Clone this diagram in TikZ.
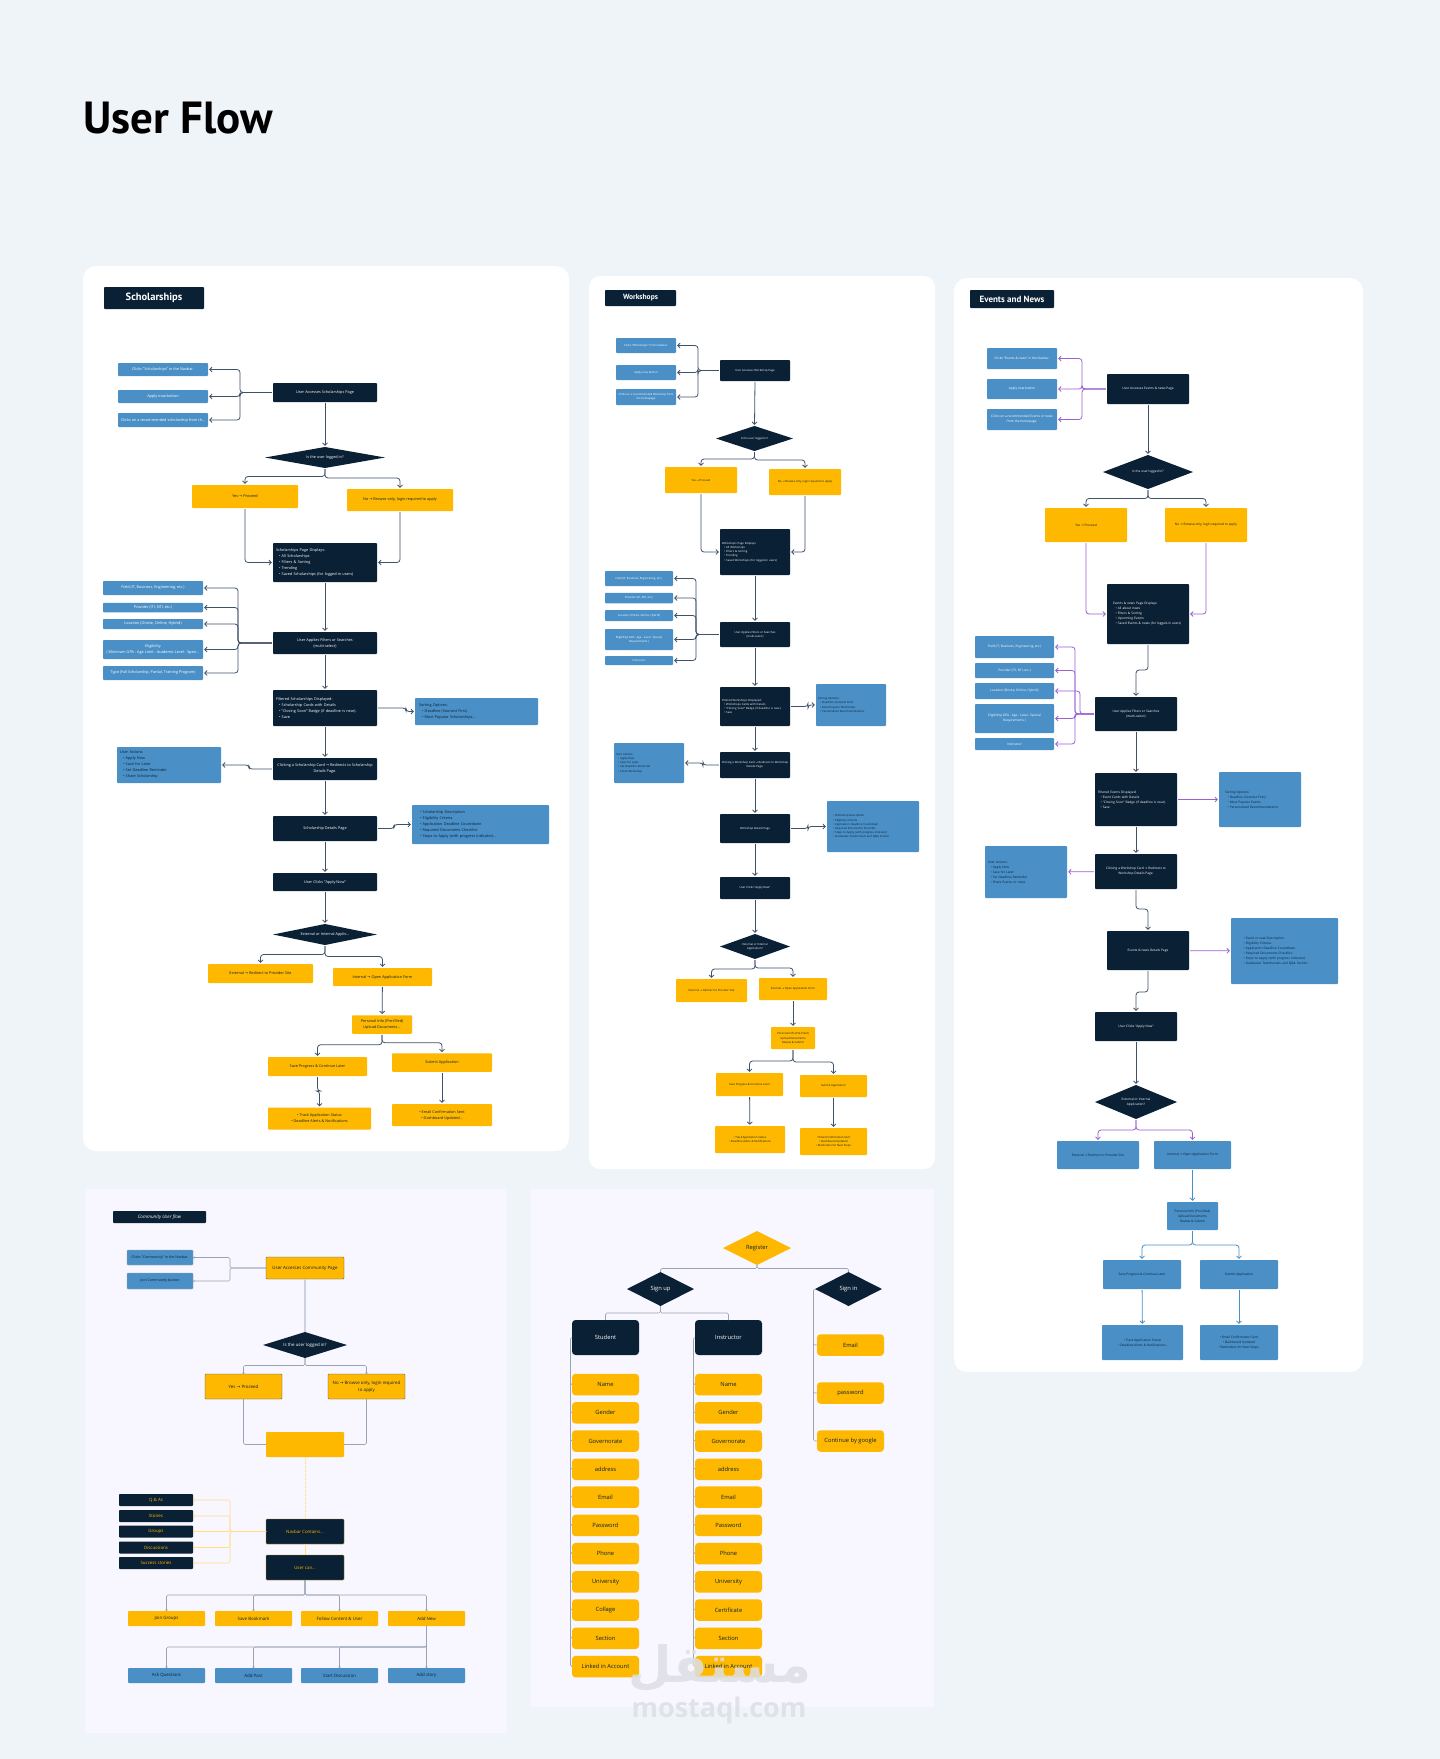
\documentclass[tikz,border=0pt]{standalone}
\usepackage{fontspec}
\setmainfont{Open Sans}
\newfontfamily\headfont{PT Sans}
\newfontfamily\arrfont{DejaVu Sans}
\newfontfamily\arabicfont[Script=Arabic]{DejaVu Sans}
\TeXXeTstate=1
\usetikzlibrary{shapes.geometric, arrows.meta}

\definecolor{pagebg}{HTML}{EFF4F9}
\definecolor{lilac}{HTML}{F8F6FE}
\definecolor{navy}{HTML}{0A2035}
\definecolor{azure}{HTML}{4A90C7}
\definecolor{amber}{HTML}{FFB800}
\definecolor{slate}{HTML}{3F5269}
\definecolor{mauve}{HTML}{9A60D2}
\definecolor{steel}{HTML}{9AA3B5}
\definecolor{paleamber}{HTML}{FFDE85}
\definecolor{haze}{HTML}{CDD2E0}
\definecolor{markgrey}{HTML}{DDDFE4}

\newcommand{\arr}{{\arrfont →}}
\newcommand{\itm}{\hspace*{0.8em}\textbullet\ }

\begin{document}
\begin{tikzpicture}[x = 1pt, y = -1pt,
                    wh/.style 2 args = {minimum width = #1pt, minimum height = #2pt},
                    tw/.style = {align = left, text width = #1pt},
                    card/.style = {rectangle, rounded corners = 0.8pt, inner sep = 0pt, outer sep = 0pt, align = center},
                    navybox/.style = {card, fill = navy, text = white},
                    bluebox/.style = {card, fill = azure, text = white},
                    bluedark/.style = {card, fill = azure, text = navy},
                    ambbox/.style = {card, fill = amber, text = navy},
                    navydia/.style = {diamond, aspect = 4, inner sep = 0pt, outer sep = 0pt, align = center, fill = navy, text = white},
                    headbox/.style = {card, fill = navy, text = white, font = \headfont\bfseries},
                    flow/.style = {->, >={Straight Barb[length = 2.4pt, width = 5pt]}, draw = slate, line width = 0.8pt, rounded corners = 3pt, shorten > = 1.2pt, shorten < = 1.2pt},
                    purpleflow/.style = {flow, draw = mauve},
                    blueflow/.style = {flow, draw = azure},
                    thinflow/.style = {->, >={Straight Barb[length = 1pt, width = 2pt]}, draw = steel, line width = 0.6pt, rounded corners = 1.5pt},
                    paleflow/.style = {thinflow, draw = paleamber},
                    link/.style = {draw = steel, line width = 0.6pt, rounded corners = 1.5pt},
                    amblist/.style = {navybox, text = amber, wh = {74}{12}},
                    field/.style = {card, fill = amber, text = navy, rounded corners = 3.5pt, wh = {67}{21.5}},
                    rolebox/.style = {card, fill = navy, text = white, rounded corners = 3.5pt, wh = {67}{35}}]

\useasboundingbox (0,0) rectangle (1440,1759);
\fill [pagebg] (0,0) rectangle (1440,1759);

% panels
\fill [white, rounded corners = 13pt] (83,266) rectangle (569,1151);
\fill [white, rounded corners = 11pt] (589,276) rectangle (935,1169);
\fill [white, rounded corners = 13pt] (954,278) rectangle (1363,1372);
\fill [lilac] (85,1189) rectangle (507,1733);
\fill [lilac] (531,1189) rectangle (934,1707);

\node (title) at (178,118) {\headfont\bfseries\fontsize{45}{50}\selectfont User Flow};

% scholarships
\begin{scope}[nodes = {font = \fontsize{3.8}{6}\selectfont}]
\node [headbox, wh = {100}{22}, font = \headfont\bfseries\fontsize{10.5}{12}\selectfont] (Shead) at (154,298) {Scholarships};
\node [bluebox, wh = {90}{13}] (S1) at (163,369.5) {Clicks "Scholarships" in the Navbar.};
\node [bluebox, wh = {90}{13}] (S2) at (163,396.5) {Apply now button};
\node [bluebox, wh = {90}{14}] (S3) at (163,420) {Clicks on a recommended scholarship from th...};
\node [navybox, wh = {104}{19}] (S4) at (325,392.5) {User Accesses Scholarships Page};
\node [navydia, wh = {120}{21}] (S5) at (325,457.5) {Is the user logged in?};
\node [ambbox, wh = {106}{23}] (S6) at (245,496.5) {Yes \arr{} Proceed};
\node [ambbox, wh = {106}{22}] (S7) at (400,500) {No \arr{} Browse only, login required to apply};
\node [navybox, wh = {104}{39}, tw = 98] (S8) at (325,562.5) {Scholarships Page Displays:\\ \itm All Scholarships\\ \itm Filters \& Sorting\\ \itm Trending\\ \itm Saved Scholarships (for logged-in users)};
\node [bluebox, wh = {100}{14}] (S9) at (153,588) {Field (IT, Business, Engineering, etc.)};
\node [bluebox, wh = {100}{9.5}] (S10) at (153,607.5) {Provider (ITI, NTI, etc.)};
\node [bluebox, wh = {100}{10}] (S11) at (153,624) {Location (Onsite, Online, Hybrid)};
\node [bluebox, wh = {100}{19}] (S12) at (153,649.5) {Eligibility\\ ( Minimum GPA - Age Limit - Academic Level - Speci...};
\node [bluebox, wh = {100}{14}] (S13) at (153,673) {Type (Full Scholarship, Partial, Training Program)};
\node [navybox, wh = {104}{22}] (S14) at (325,643) {User Applies Filters or Searches\\ (multi-select)};
\node [navybox, wh = {104}{36}, tw = 98] (S15) at (325,708) {Filtered Scholarships Displayed:\\ \itm Scholarship Cards with Details\\ \itm "Closing Soon" Badge (if deadline is near).\\ \itm Save};
\node [bluedark, wh = {123}{27}, tw = 115] (S16) at (476.5,711.5) {Sorting Options:\\ \itm Deadline (Soonest First)\\ \itm Most Popular Scholarships...};
\node [navybox, wh = {104}{22}] (S17) at (325,769) {Clicking a Scholarship Card \arr{} Redirects to Scholarship\\ Details Page.};
\node [bluedark, wh = {104}{36}, tw = 98] (S18) at (169,765) {User Actions:\\ \itm Apply Now\\ \itm Save for Later\\ \itm Set Deadline Reminder\\ \itm Share Scholarship};
\node [navybox, wh = {104}{25}] (S19) at (325,828.5) {Scholarship Details Page};
\node [bluedark, wh = {137}{39}, tw = 127] (S20) at (480.5,824.5) {\itm Scholarship Description\\ \itm Eligibility Criteria\\ \itm Application Deadline Countdown\\ \itm Required Documents Checklist\\ \itm Steps to Apply (with progress indicator)...};
\node [navybox, wh = {104}{18}] (S21) at (325,882) {User Clicks "Apply Now"};
\node [navydia, wh = {104}{21}] (S22) at (325,934.5) {External or Internal Applic...};
\node [ambbox, wh = {105}{19}] (S23) at (260.5,973.5) {External \arr{} Redirect to Provider Site};
\node [ambbox, wh = {99}{18}] (S24) at (382.5,977) {Internal \arr{} Open Application Form};
\node [ambbox, wh = {60}{18.5}] (S25) at (382,1024.5) {Personal Info (Pre-filled)\\ Upload Documents...};
\node [ambbox, wh = {99}{19}] (S26) at (317.5,1066.5) {Save Progress \& Continue Later};
\node [ambbox, wh = {100}{18.5}] (S27) at (442,1062.5) {Submit Application};
\node [ambbox, wh = {103}{22}] (S28) at (319.5,1118.5) {\textbullet\ Track Application Status\\ \textbullet\ Deadline Alerts \& Notifications};
\node [ambbox, wh = {100}{22}] (S29) at (442,1115) {\textbullet\ Email Confirmation Sent\\ \textbullet\ Dashboard Updated...};
\end{scope}

\coordinate (Sa) at (240,392.5);
\coordinate (Sb) at (238,643);
\draw [flow] (S4.west)--(Sa)|-(S1.east);
\draw [flow] (S4.west)--(Sa)|-(S2.east);
\draw [flow] (S4.west)--(Sa)|-(S3.east);
\draw [flow] (S4)--(S5);
\draw [flow] (S5.south)--++(0,8.5)-|(S6.north);
\draw [flow] (S5.south)--++(0,10)-|(S7.north);
\draw [flow] (S6.south)|-(S8.west);
\draw [flow] (S7.south)|-(S8.east);
\draw [flow] (S8)--(S14);
\draw [flow] (S14.west)--(Sb)|-(S9.east);
\draw [flow] (S14.west)--(Sb)|-(S10.east);
\draw [flow] (S14.west)--(Sb)|-(S11.east);
\draw [flow] (S14.west)--(Sb)|-(S12.east);
\draw [flow] (S14.west)--(Sb)|-(S13.east);
\draw [flow] (S14)--(S15);
\draw [flow] (S15.east)--++(29,0)|-(S16.west);
\draw [flow] (S15)--(S17);
\draw [flow] (S17.west)--++(-24,0)|-(S18.east);
\draw [flow] (S17)--(S19);
\draw [flow] (S19.east)--++(17,0)|-(S20.west);
\draw [flow] (S19)--(S21);
\draw [flow] (S21)--(S22);
\draw [flow] (S22.south)--++(0,9.5)-|(S23.north);
\draw [flow] (S22.south)--++(0,11.5)-|(S24.north);
\draw [flow] (S24)--(S25);
\draw [flow] (S25.south)--++(0,11)-|(S26.north);
\draw [flow] (S25.south)--++(0,9)-|(S27.north);
\draw [flow] (S26.south)--++(0,15)-|(S28.north);
\draw [flow] (S27)--(S29);

% workshops
\begin{scope}[nodes = {font = \fontsize{2.8}{4.2}\selectfont}]
\node [headbox, wh = {71}{16}, font = \headfont\bfseries\fontsize{7.5}{9}\selectfont] (Whead) at (640.5,298) {Workshops};
\node [bluebox, wh = {60}{15}] (W1) at (646,345.5) {Clicks "Workshops" in the Navbar.};
\node [bluebox, wh = {60}{15}] (W2) at (646,372.5) {Apply now button};
\node [bluebox, wh = {60}{16}] (W3) at (646,397) {Clicks on a recommended Workshop from\\ the homepage};
\node [navybox, wh = {70}{21}] (W4) at (755,370.5) {User Accesses Workshop Page};
\node [navydia, wh = {77}{25}] (W5) at (754.5,438.5) {Is the user logged in?};
\node [ambbox, wh = {72}{26}] (W6) at (701,480) {Yes \arr{} Proceed};
\node [ambbox, wh = {72}{26}] (W7) at (805,482) {No \arr{} Browse only, login required to apply};
\node [navybox, wh = {70}{46}, tw = 66] (W8) at (755,552) {Workshops Page Displays:\\ \itm All Workshops\\ \itm Filters \& Sorting\\ \itm Trending\\ \itm Saved Workshops (for logged-in users)};
\node [bluebox, wh = {68}{15}] (W9) at (639,578.5) {Field (IT, Business, Engineering, etc.)};
\node [bluebox, wh = {68}{10.5}] (W10) at (639,598) {Provider (ITI, NTI, etc.)};
\node [bluebox, wh = {68}{11}] (W11) at (639,615.5) {Location (Onsite, Online, Hybrid)};
\node [bluebox, wh = {68}{21}] (W12) at (639,639.5) {Eligibility( GPA - Age - Level - Special\\ Requirements )};
\node [bluebox, wh = {68}{9}] (W13) at (639,660.5) {Instructor};
\node [navybox, wh = {70}{25}] (W14) at (755,634.5) {User Applies Filters or Searches\\ (multi-select)};
\node [navybox, wh = {70}{39}, tw = 66] (W15) at (755,706.5) {Filtered Workshops Displayed:\\ \itm Workshops Cards with Details\\ \itm "Closing Soon" Badge (if deadline is near).\\ \itm Save};
\node [bluedark, wh = {70}{42}, tw = 66] (W16) at (851,705) {Sorting Options:\\ \itm Deadline (Soonest First)\\ \itm Most Popular Workshops\\ \itm Personalized Recommendations};
\node [navybox, wh = {70}{26}] (W17) at (755,765) {Clicking a Workshop Card \arr{} Redirects to Workshop\\ Details Page.};
\node [bluedark, wh = {70}{40}, tw = 66] (W18) at (649,763) {User Actions:\\ \itm Apply Now\\ \itm Save for Later\\ \itm Set Deadline Reminder\\ \itm Share Workshop};
\node [navybox, wh = {70}{29}] (W19) at (755,828.5) {Workshop Details Page};
\node [bluedark, wh = {92}{51}, tw = 84] (W20) at (873,826.5) {\itm Workshop Description\\ \itm Eligibility Criteria\\ \itm Application Deadline Countdown\\ \itm Required Documents Checklist\\ \itm Steps to Apply (with progress indicator)\\ \itm Graduates Testimonials and Q\&A Section};
\node [navybox, wh = {70}{22}] (W21) at (755,888) {User Clicks "Apply Now"};
\node [navydia, wh = {70}{25}] (W22) at (755,946.5) {External or Internal\\ Application?};
\node [ambbox, wh = {71}{23}] (W23) at (711.5,990.5) {External \arr{} Redirect to Provider Site};
\node [ambbox, wh = {68}{22}] (W24) at (793,989) {Internal \arr{} Open Application Form};
\node [ambbox, wh = {44}{22}] (W25) at (793,1038) {Personal Info (Pre-filled)\\ Upload Documents\\ Review \& Submit};
\node [ambbox, wh = {67}{23}] (W26) at (749.5,1084.5) {Save Progress \& Continue Later};
\node [ambbox, wh = {67}{22}] (W27) at (833.5,1086) {Submit Application};
\node [ambbox, wh = {70}{27}] (W28) at (750,1139.5) {\textbullet\ Track Application Status\\ \textbullet\ Deadline Alerts \& Notifications};
\node [ambbox, wh = {67}{27}] (W29) at (833.5,1141.5) {\textbullet\ Email Confirmation Sent\\ \textbullet\ Dashboard Updated\\ \textbullet\ Reminders for Next Steps};
\end{scope}

\coordinate (Wa) at (698,370.5);
\coordinate (Wb) at (696,634.5);
\draw [flow] (W4.west)--(Wa)|-(W1.east);
\draw [flow] (W4.west)--(Wa)|-(W2.east);
\draw [flow] (W4.west)--(Wa)|-(W3.east);
\draw [flow] (W4.south)--(W5.north);
\draw [flow] (W5.south)--++(0,8)-|(W6.north);
\draw [flow] (W5.south)--++(0,9)-|(W7.north);
\draw [flow] (W6.south)|-(W8.west);
\draw [flow] (W7.south)|-(W8.east);
\draw [flow] (W8)--(W14);
\draw [flow] (W14.west)--(Wb)|-(W9.east);
\draw [flow] (W14.west)--(Wb)|-(W10.east);
\draw [flow] (W14.west)--(Wb)|-(W11.east);
\draw [flow] (W14.west)--(Wb)|-(W12.east);
\draw [flow] (W14.west)--(Wb)|-(W13.east);
\draw [flow] (W14)--(W15);
\draw [flow] (W15.east)--++(18,0)|-(W16.west);
\draw [flow] (W15)--(W17);
\draw [flow] (W17.west)--++(-17,0)|-(W18.east);
\draw [flow] (W17)--(W19);
\draw [flow] (W19.east)--++(18,0)|-(W20.west);
\draw [flow] (W19)--(W21);
\draw [flow] (W21.south)--(W22.north);
\draw [flow] (W22.south)--++(0,10)-|(W23.north);
\draw [flow] (W22.south)--++(0,9)-|(W24.north);
\draw [flow] (W24.south)--(W25.north);
\draw [flow] (W25.south)--++(0,12)-|(W26.north);
\draw [flow] (W25.south)--++(0,13)-|(W27.north);
\draw [flow] (W26)--(W28);
\draw [flow] (W27)--(W29);

% events and news
\begin{scope}[nodes = {font = \fontsize{3.2}{5}\selectfont}]
\node [headbox, wh = {84}{18}, font = \headfont\bfseries\fontsize{9}{11}\selectfont] (Ehead) at (1012,299) {Events and News};
\node [bluebox, wh = {70}{21}] (E1) at (1022,358.5) {Clicks "Events \& news" in the Navbar.};
\node [bluebox, wh = {70}{20}] (E2) at (1022,389) {Apply now button};
\node [bluebox, wh = {70}{21}] (E3) at (1022,419.5) {Clicks on a recommended Events or news\\ from the homepage.};
\node [navybox, wh = {82}{30}] (E4) at (1148,389) {User Accesses Events \& news Page};
\node [navydia, wh = {90}{34}] (E5) at (1148,472) {Is the user logged in?};
\node [ambbox, wh = {82}{34}] (E6) at (1086,525) {Yes \arr{} Proceed};
\node [ambbox, wh = {82}{34}] (E7) at (1206,525) {No \arr{} Browse only, login required to apply};
\node [navybox, wh = {82}{60}, tw = 70] (E8) at (1148,614) {Events \& news Page Displays:\\ \itm All about news\\ \itm Filters \& Sorting\\ \itm Upcoming Events\\ \itm Saved Events \& news (for logged-in users)};
\node [bluebox, wh = {79}{22}] (E9) at (1014.5,647) {Field (IT, Business, Engineering, etc.)};
\node [bluebox, wh = {79}{15}] (E10) at (1014.5,670.5) {Provider (ITI, NTI, etc.)};
\node [bluebox, wh = {79}{16}] (E11) at (1014.5,691) {Location (Onsite, Online, Hybrid)};
\node [bluebox, wh = {79}{29}] (E12) at (1014.5,718.5) {Eligibility( GPA - Age - Level - Special\\ Requirements )};
\node [bluebox, wh = {79}{12}] (E13) at (1014.5,744) {Instructor};
\node [navybox, wh = {82}{34}] (E14) at (1136,714) {User Applies Filters or Searches\\ (multi-select)};
\node [navybox, wh = {82}{53}, tw = 76] (E15) at (1136,799.5) {Filtered Events Displayed:\\ \itm Event Cards with Details\\ \itm "Closing Soon" Badge (if deadline is near).\\ \itm Save};
\node [bluedark, wh = {82}{55}, tw = 70] (E16) at (1260,799.5) {Sorting Options:\\ \itm Deadline (Soonest First)\\ \itm Most Popular Events\\ \itm Personalized Recommendations};
\node [navybox, wh = {82}{35}] (E17) at (1136,871.5) {Clicking a Workshop Card \arr{} Redirects to\\ Workshop Details Page.};
\node [bluedark, wh = {82}{52}, tw = 76] (E18) at (1026,872) {User Actions:\\ \itm Apply Now\\ \itm Save for Later\\ \itm Set Deadline Reminder\\ \itm Share Events or news};
\node [navybox, wh = {82}{39}] (E19) at (1148,950.5) {Events \& news Details Page};
\node [bluedark, wh = {107}{66}, tw = 87] (E20) at (1284.5,951) {\itm Event or new Description .\\ \itm Eligibility Criteria.\\ \itm Application Deadline Countdown.\\ \itm Required Documents Checklist.\\ \itm Steps to Apply (with progress indicator).\\ \itm Graduates Testimonials and Q\&A Section.};
\node [navybox, wh = {82}{29}] (E21) at (1136,1026.5) {User Clicks "Apply Now"};
\node [navydia, wh = {82}{34}] (E22) at (1136,1102) {External or Internal\\ Application?};
\node [bluedark, wh = {82}{28}] (E23) at (1098,1155) {External \arr{} Redirect to Provider Site};
\node [bluedark, wh = {77}{28}] (E24) at (1192.5,1155) {Internal \arr{} Open Application Form};
\node [bluedark, wh = {51}{28}] (E25) at (1192.5,1216) {Personal Info (Pre-filled)\\ Upload Documents\\ Review \& Submit};
\node [bluedark, wh = {78}{29}] (E26) at (1142,1274.5) {Save Progress \& Continue Later};
\node [bluedark, wh = {78}{29}] (E27) at (1239,1274.5) {Submit Application};
\node [bluedark, wh = {81}{35}] (E28) at (1142.5,1342.5) {\textbullet\ Track Application Status\\ \textbullet\ Deadline Alerts \& Notifications.};
\node [bluedark, wh = {78}{35}] (E29) at (1239,1342.5) {\textbullet\ Email Confirmation Sent\\ \textbullet\ Dashboard Updated\\ \textbullet\ Reminders for Next Steps.};
\end{scope}

\coordinate (Ea) at (1082,389);
\coordinate (Eb) at (1075,714);
\coordinate (Ec) at (1080,714);
\draw [purpleflow] (E4.west)--(Ea)|-(E1.east);
\draw [purpleflow] (E4.west)--(Ea)|-(E2.east);
\draw [purpleflow] (E4.west)--(Ea)|-(E3.east);
\draw [flow] (E4)--(E5);
\draw [flow] (E5.south)--++(0,9.5)-|(E6.north);
\draw [flow] (E5.south)--++(0,9.5)-|(E7.north);
\draw [purpleflow] (E6.south)|-(E8.west);
\draw [purpleflow] (E7.south)|-(E8.east);
\draw [flow] (E8.south)--++(0,26)-|(E14.north);
\draw [purpleflow] (E14.west)--(Eb)|-(E9.east);
\draw [purpleflow] (E14.west)--(Eb)|-(E10.east);
\draw [purpleflow] (E14.west)--(Ec)|-(E11.east);
\draw [purpleflow] (E14.west)--(Eb)|-(E12.east);
\draw [purpleflow] (E14.west)--(Eb)|-(E13.east);
\draw [flow] (E14)--(E15);
\draw [purpleflow] (E15)--(E16);
\draw [flow] (E15)--(E17);
\draw [purpleflow] (E17)--(E18);
\draw [flow] (E17.south)--++(0,20)-|(E19.north);
\draw [purpleflow] (E19)--(E20);
\draw [flow] (E19.south)--++(0,22)-|(E21.north);
\draw [flow] (E21)--(E22);
\draw [purpleflow] (E22.south)--++(0,11)-|(E23.north);
\draw [purpleflow] (E22.south)--++(0,11)-|(E24.north);
\draw [blueflow] (E24)--(E25);
\draw [blueflow] (E25.south)--++(0,15)-|(E26.north);
\draw [blueflow] (E25.south)--++(0,15)-|(E27.north);
\draw [blueflow] (E26)--(E28);
\draw [blueflow] (E27)--(E29);

% community
\begin{scope}[nodes = {font = \fontsize{4.4}{7}\selectfont}]
\node [headbox, wh = {93}{12}, font = \fontsize{4.6}{6}\selectfont\itshape] (Chead) at (159.5,1217) {Community User flow};
\node [bluedark, wh = {66}{15}, draw = steel, line width = 0.4pt, font = \fontsize{3.6}{5}\selectfont] (C1) at (160,1257.5) {Clicks "Community" in the Navbar.};
\node [bluedark, wh = {66}{16}, draw = steel, line width = 0.4pt, font = \fontsize{3.6}{5}\selectfont] (C2) at (160,1281) {Join Community button};
\node [ambbox, wh = {78}{22}, draw = slate, line width = 0.4pt] (C3) at (305,1268) {User Accesses Community Page};
\node [navydia, wh = {84}{26}] (C4) at (305,1345) {Is the user logged in?};
\node [ambbox, wh = {77}{25}, draw = slate, line width = 0.4pt] (C5) at (243.5,1386.5) {Yes \arr{} Proceed};
\node [ambbox, wh = {77}{25}, draw = slate, line width = 0.4pt] (C6) at (366.5,1386.5) {No \arr{} Browse only, login required\\ to apply};
\node [ambbox, wh = {78}{25}] (C7) at (305,1444.5) {};
\node [amblist] (C8) at (156,1500) {Q \& As};
\node [amblist] (C9) at (156,1516) {Stories};
\node [amblist] (C10) at (156,1531.5) {Groups};
\node [amblist] (C11) at (156,1547.5) {Discussions};
\node [amblist] (C12) at (156,1563) {Success stories};
\node [navybox, wh = {78}{25}, text = amber, draw = amber!70!navy, line width = 0.4pt] (C13) at (305,1531.5) {Navbar Contains...};
\node [navybox, wh = {78}{25}, text = amber, draw = amber!70!navy, line width = 0.4pt] (C14) at (305,1567.5) {User can...};
\node [ambbox, wh = {77}{15}] (C15) at (166.5,1618.5) {Join Groups};
\node [ambbox, wh = {77}{15}] (C16) at (253.5,1618.5) {Save Bookmark};
\node [ambbox, wh = {77}{15}] (C17) at (339.5,1618.5) {Follow Content \& User};
\node [ambbox, wh = {77}{15}] (C18) at (426.5,1618.5) {Add New};
\node [bluedark, wh = {77}{15}] (C19) at (166.5,1675.5) {Ask Questions};
\node [bluedark, wh = {77}{15}] (C20) at (253.5,1675.5) {Add Post};
\node [bluedark, wh = {77}{15}] (C21) at (339.5,1675.5) {Start Discussion};
\node [bluedark, wh = {77}{15}] (C22) at (426.5,1675.5) {Add story};
\end{scope}

\coordinate (Ca) at (230,1268);
\coordinate (Cb) at (230,1531.5);
\draw [thinflow] (C3.west)--(Ca)|-(C1.east);
\draw [thinflow] (C3.west)--(Ca)|-(C2.east);
\draw [draw = haze, line width = 1.6pt] (C3.south)--(C4.north);
\draw [thinflow] (C4.south)--++(0,7.5)-|(C5.north);
\draw [thinflow] (C4.south)--++(0,7.5)-|(C6.north);
\draw [link] (C5.south)|-(C7.west);
\draw [link] (C6.south)|-(C7.east);
\draw [draw = paleamber, line width = 0.6pt, densely dotted] (C7.south)--(C13.north);
\draw [draw = paleamber, line width = 0.8pt] (C13.south)--(C14.north);
\draw [paleflow] (C13.west)--(Cb)|-(C8.east);
\draw [paleflow] (C13.west)--(Cb)|-(C9.east);
\draw [paleflow] (C13.west)--(Cb)|-(C10.east);
\draw [paleflow] (C13.west)--(Cb)|-(C11.east);
\draw [paleflow] (C13.west)--(Cb)|-(C12.east);
\draw [thinflow] (C14.south)--++(0,15)-|(C15.north);
\draw [thinflow] (C14.south)--++(0,15)-|(C16.north);
\draw [thinflow] (C14.south)--++(0,15)-|(C17.north);
\draw [thinflow] (C14.south)--++(0,15)-|(C18.north);
\draw [thinflow] (C18.south)--++(0,21)-|(C19.north);
\draw [thinflow] (C18.south)--++(0,21)-|(C20.north);
\draw [thinflow] (C18.south)--++(0,21)-|(C21.north);
\draw [thinflow] (C18.south)--(C22.north);

% register
\begin{scope}[nodes = {font = \fontsize{5.8}{7}\selectfont}]
\node [navydia, fill = amber, text = navy, wh = {68}{34}] (R1) at (757,1248) {Register};
\node [navydia, wh = {67}{34}] (R2) at (660.5,1289) {Sign up};
\node [navydia, wh = {67}{34}] (R3) at (848.5,1289) {Sign in};
\node [rolebox] (A0) at (605.5,1337.5) {Student};
\node [field] (A1) at (605.5,1384.6) {Name};
\node [field] (A2) at (605.5,1412.8) {Gender};
\node [field] (A3) at (605.5,1441) {Governorate};
\node [field] (A4) at (605.5,1469.3) {address};
\node [field] (A5) at (605.5,1497.2) {Email};
\node [field] (A6) at (605.5,1525.4) {Password};
\node [field] (A7) at (605.5,1553.6) {Phone};
\node [field] (A8) at (605.5,1581.9) {University};
\node [field] (A9) at (605.5,1610) {Collage};
\node [field] (A10) at (605.5,1638.3) {Section};
\node [field] (A11) at (605.5,1666.6) {Linked in Account};
\node [rolebox] (B0) at (728.5,1337.5) {Instructor};
\node [field] (B1) at (728.5,1384.6) {Name};
\node [field] (B2) at (728.5,1412.8) {Gender};
\node [field] (B3) at (728.5,1441) {Governorate};
\node [field] (B4) at (728.5,1469.3) {address};
\node [field] (B5) at (728.5,1497.2) {Email};
\node [field] (B6) at (728.5,1525.4) {Password};
\node [field] (B7) at (728.5,1553.6) {Phone};
\node [field] (B8) at (728.5,1581.9) {University};
\node [field] (B9) at (728.5,1610) {Certificate};
\node [field] (B10) at (728.5,1638.3) {Section};
\node [field] (B11) at (728.5,1666.6) {Linked in Account};
\node [field] (D1) at (850.5,1345) {Email};
\node [field] (D2) at (850.5,1393) {password};
\node [field] (D3) at (850.5,1441) {Continue by google};
\end{scope}

\draw [link] (R1.south)--++(0,3.5)-|(R2.north);
\draw [link] (R1.south)--++(0,3.5)-|(R3.north);
\draw [link] (R2.south)--++(0,7)-|(A0.north);
\draw [link] (R2.south)--++(0,7)-|(B0.north);
\draw [link] (R3.west)--++(-1.5,0)|-(D1.west) (R3.west)--++(-1.5,0)|-(D2.west) (R3.west)--++(-1.5,0)|-(D3.west);

% student rail
\draw [link] (A0.west)--++(-1.5,0)|-(A1.west) (A0.west)--++(-1.5,0)|-(A2.west)
             (A0.west)--++(-1.5,0)|-(A3.west) (A0.west)--++(-1.5,0)|-(A4.west)
             (A0.west)--++(-1.5,0)|-(A5.west) (A0.west)--++(-1.5,0)|-(A6.west)
             (A0.west)--++(-1.5,0)|-(A7.west) (A0.west)--++(-1.5,0)|-(A8.west)
             (A0.west)--++(-1.5,0)|-(A9.west) (A0.west)--++(-1.5,0)|-(A10.west)
             (A0.west)--++(-1.5,0)|-(A11.west);

% instructor rail
\draw [link] (B0.west)--++(-1.5,0)|-(B1.west) (B0.west)--++(-1.5,0)|-(B2.west)
             (B0.west)--++(-1.5,0)|-(B3.west) (B0.west)--++(-1.5,0)|-(B4.west)
             (B0.west)--++(-1.5,0)|-(B5.west) (B0.west)--++(-1.5,0)|-(B6.west)
             (B0.west)--++(-1.5,0)|-(B7.west) (B0.west)--++(-1.5,0)|-(B8.west)
             (B0.west)--++(-1.5,0)|-(B9.west) (B0.west)--++(-1.5,0)|-(B10.west)
             (B0.west)--++(-1.5,0)|-(B11.west);

% watermark
\node [text = markgrey, opacity = 0.85] (mark1) at (720,1668) {\arabicfont\bfseries\fontsize{50}{50}\selectfont\beginR مستقل\endR};
\node [text = markgrey, opacity = 0.85] (mark2) at (719,1710) {\bfseries\fontsize{27}{29}\selectfont mostaql.com};

\end{tikzpicture}
\end{document}
